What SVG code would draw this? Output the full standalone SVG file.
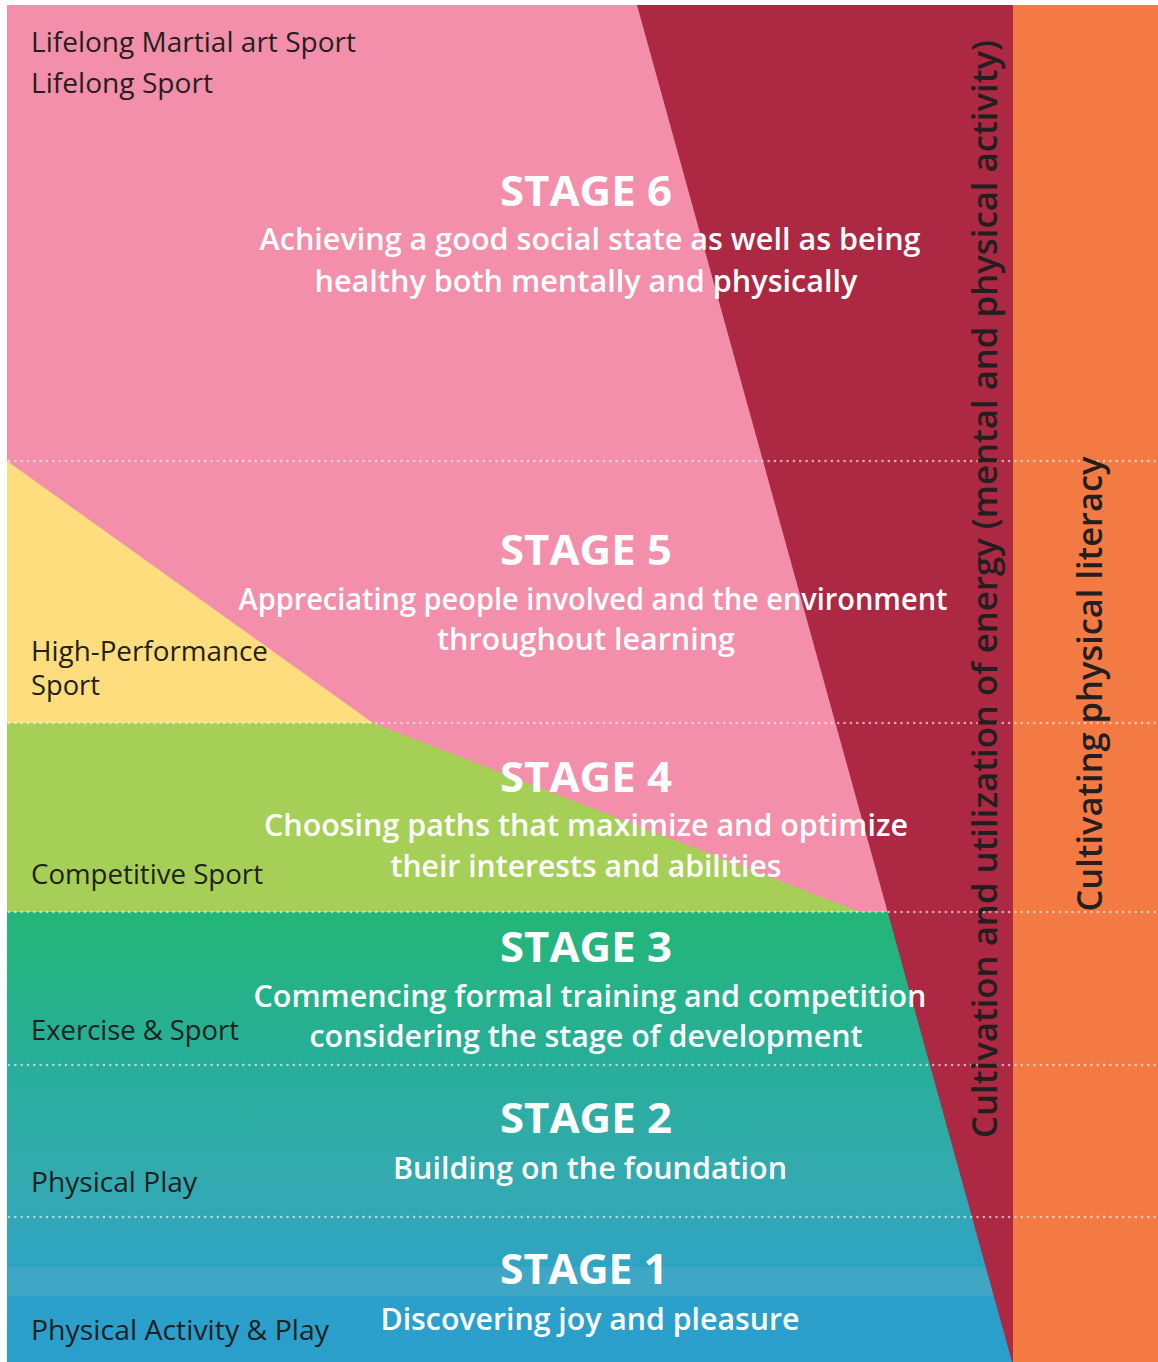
<svg xmlns="http://www.w3.org/2000/svg" width="1158" height="1362" viewBox="0 0 1158 1362">
<defs>
<linearGradient id="lowGrad" gradientUnits="userSpaceOnUse" x1="0" y1="912" x2="0" y2="1362">
<stop offset="0" stop-color="#23b677"/>
<stop offset="0.33" stop-color="#27ae98"/>
<stop offset="0.6" stop-color="#33aab0"/>
<stop offset="0.78" stop-color="#2ea4c2"/>
<stop offset="0.85" stop-color="#2ba0cb"/>
<stop offset="1" stop-color="#2b9fcb"/>
</linearGradient>
<style>
.lbl{font-family:"Open Sans","Noto Sans","Liberation Sans",sans-serif;font-size:27px;fill:#231f20;}
.st{font-family:"Open Sans","Noto Sans","Liberation Sans",sans-serif;font-size:42px;font-weight:700;fill:#ffffff;text-anchor:middle;}
.sub{font-family:"Open Sans","Noto Sans","Liberation Sans",sans-serif;font-size:30px;font-weight:600;fill:#ffffff;text-anchor:middle;}
.vert{font-family:"Open Sans","Noto Sans","Liberation Sans",sans-serif;font-size:35px;font-weight:600;fill:#231f20;text-anchor:middle;}
.dots{stroke:#ffffff;stroke-opacity:0.6;stroke-width:2.6;stroke-linecap:round;stroke-dasharray:0 6.33;fill:none;}
</style>
</defs>
<rect width="1158" height="1362" fill="#ffffff"/>
<g id="background">
<rect id="pink-area" x="7" y="5" width="1006" height="1357" fill="#f38fab"/>
<polygon id="yellow-area" points="7,461 373,723 7,723" fill="#fddd7e"/>
<polygon id="green-area" points="7,723 373,723 860,912 7,912" fill="#a5cf56"/>
<rect id="low-area" x="7" y="912" width="1006" height="450" fill="url(#lowGrad)"/>
<rect id="blue-stripe" x="7" y="1267" width="1000" height="29" fill="#3fa6c5"/>
<polygon id="energy-band" points="637,5 1013,5 1013,1362 1012,1362" fill="#ad2842"/>
<rect id="literacy-band" x="1013" y="5" width="145" height="1357" fill="#f47a44"/>
</g>
<g id="connectors">
<line class="dots" x1="9" y1="461" x2="1158" y2="461"/>
<line class="dots" x1="9" y1="723" x2="1158" y2="723"/>
<line class="dots" x1="9" y1="912" x2="1158" y2="912"/>
<line class="dots" x1="9" y1="1065" x2="1158" y2="1065"/>
<line class="dots" x1="9" y1="1217" x2="1158" y2="1217"/>
</g>
<g id="stage6">
<text class="lbl" x="31" y="52" textLength="325" lengthAdjust="spacingAndGlyphs">Lifelong Martial art Sport</text>
<text class="lbl" x="31" y="93" textLength="182" lengthAdjust="spacingAndGlyphs">Lifelong Sport</text>
<text class="st" x="586" y="206" textLength="172" lengthAdjust="spacingAndGlyphs">STAGE 6</text>
<text class="sub" x="590" y="250" textLength="661" lengthAdjust="spacingAndGlyphs">Achieving a good social state as well as being</text>
<text class="sub" x="586" y="292" textLength="543" lengthAdjust="spacingAndGlyphs">healthy both mentally and physically</text>
</g>
<g id="stage5">
<text class="lbl" x="31" y="661" textLength="237" lengthAdjust="spacingAndGlyphs">High-Performance</text>
<text class="lbl" x="31" y="695" textLength="69" lengthAdjust="spacingAndGlyphs">Sport</text>
<text class="st" x="586" y="565" textLength="172" lengthAdjust="spacingAndGlyphs">STAGE 5</text>
<text class="sub" x="593" y="610" textLength="709" lengthAdjust="spacingAndGlyphs">Appreciating people involved and the environment</text>
<text class="sub" x="586" y="650" textLength="298" lengthAdjust="spacingAndGlyphs">throughout learning</text>
</g>
<g id="stage4">
<text class="lbl" x="31" y="884" textLength="232" lengthAdjust="spacingAndGlyphs">Competitive Sport</text>
<text class="st" x="586" y="792" textLength="172" lengthAdjust="spacingAndGlyphs">STAGE 4</text>
<text class="sub" x="586" y="836" textLength="644" lengthAdjust="spacingAndGlyphs">Choosing paths that maximize and optimize</text>
<text class="sub" x="586" y="877" textLength="391" lengthAdjust="spacingAndGlyphs">their interests and abilities</text>
</g>
<g id="stage3">
<text class="lbl" x="31" y="1040" textLength="208" lengthAdjust="spacingAndGlyphs">Exercise &amp; Sport</text>
<text class="st" x="586" y="962" textLength="172" lengthAdjust="spacingAndGlyphs">STAGE 3</text>
<text class="sub" x="590" y="1007" textLength="673" lengthAdjust="spacingAndGlyphs">Commencing formal training and competition</text>
<text class="sub" x="586" y="1047" textLength="553" lengthAdjust="spacingAndGlyphs">considering the stage of development</text>
</g>
<g id="stage2">
<text class="lbl" x="31" y="1192" textLength="166" lengthAdjust="spacingAndGlyphs">Physical Play</text>
<text class="st" x="586" y="1133" textLength="172" lengthAdjust="spacingAndGlyphs">STAGE 2</text>
<text class="sub" x="590" y="1179" textLength="394" lengthAdjust="spacingAndGlyphs">Building on the foundation</text>
</g>
<g id="stage1">
<text class="lbl" x="31" y="1340" textLength="298" lengthAdjust="spacingAndGlyphs">Physical Activity &amp; Play</text>
<text class="st" x="584" y="1284" textLength="168" lengthAdjust="spacingAndGlyphs">STAGE 1</text>
<text class="sub" x="590" y="1330" textLength="419" lengthAdjust="spacingAndGlyphs">Discovering joy and pleasure</text>
</g>
<g id="energy-label">
<text class="vert" x="997" y="589" transform="rotate(-90 997 589)" textLength="1098" lengthAdjust="spacingAndGlyphs">Cultivation and utilization of energy (mental and physical activity)</text>
</g>
<g id="literacy-label">
<text class="vert" x="1102" y="684" transform="rotate(-90 1102 684)" textLength="455" lengthAdjust="spacingAndGlyphs">Cultivating physical literacy</text>
</g>
</svg>
